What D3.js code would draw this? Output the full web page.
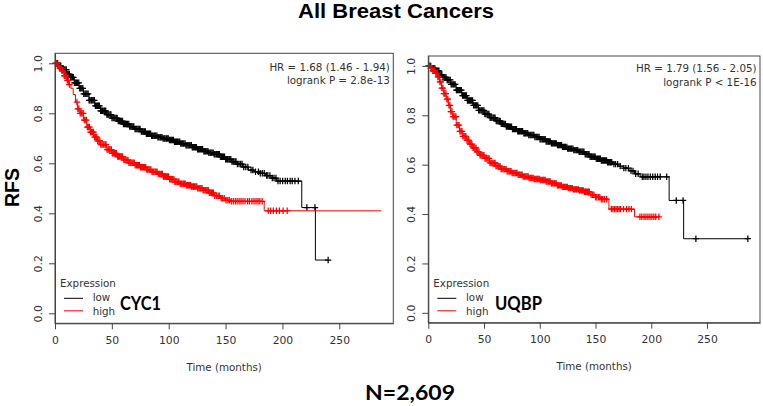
<!DOCTYPE html>
<html><head><meta charset="utf-8">
<script src="https://cdn.jsdelivr.net/npm/d3@7"></script>
<style>
html,body{margin:0;padding:0;background:#fff;}
svg{display:block;}
</style></head>
<body>
<svg id="chart" width="763" height="406"></svg>
<script>
// ---------------- DATA ----------------
const chartTitle = "All Breast Cancers";
const yLabel = "RFS";
const footer = "N=2,609";
const xTitle = "Time (months)";
const xTicks = [0, 50, 100, 150, 200, 250];
const yTicks = [0.0, 0.2, 0.4, 0.6, 0.8, 1.0];
const yTickLabels = ["0.0", "0.2", "0.4", "0.6", "0.8", "1.0"];
const legendTitle = "Expression";
const groups = ["low", "high"];
const genes = ["CYC1", "UQBP"];
const hrTexts = ["HR = 1.68 (1.46 - 1.94)", "HR = 1.79 (1.56 - 2.05)"];
const pTexts = ["logrank P = 2.8e-13", "logrank P < 1E-16"];

// CYC1 - low expression (black)
const cyc1LowTime = [0,3,6,10,13,17,21,25,30,35,40,45,50,55,60,65,70,75,80,85,90,95,100,105,110,115,120,125,130,135,140,145,150,155,160,165,170,175,180,185,190,195,217,229,240];
const cyc1LowSurv = [1.0,0.99,0.975,0.957,0.944,0.922,0.90,0.878,0.852,0.83,0.81,0.795,0.781,0.769,0.757,0.747,0.737,0.727,0.718,0.71,0.704,0.699,0.693,0.686,0.679,0.672,0.664,0.656,0.648,0.642,0.636,0.626,0.616,0.607,0.597,0.585,0.573,0.566,0.560,0.551,0.541,0.529,0.423,0.213,0.213];
const cyc1LowCensor = [0.6,1.5,2.3,3.4,4.2,5.1,6.0,7.1,7.9,8.8,9.9,10.7,11.6,12.6,13.5,14.3,15.4,16.2,17.1,18.1,19.0,19.8,20.9,21.7,22.6,23.6,24.5,25.3,26.4,27.2,28.1,29.1,30.0,30.8,31.9,32.7,33.6,34.6,35.5,36.3,37.4,38.2,39.1,40.1,41.0,41.8,42.9,43.7,44.6,45.6,46.5,47.3,48.4,49.2,50.1,51.1,52.0,52.8,53.9,54.7,55.6,56.6,57.5,58.3,59.4,60.2,61.1,62.1,63.0,63.8,64.9,65.7,66.6,67.6,68.5,69.3,70.4,71.2,72.1,73.1,74.0,74.8,75.9,76.7,77.6,78.6,79.5,80.3,81.4,82.2,83.1,84.1,85.0,85.8,86.9,87.7,88.6,89.6,90.5,91.3,92.4,93.2,94.1,95.1,96.0,96.8,97.9,98.7,99.6,100.6,101.5,102.3,103.4,104.2,105.1,106.1,107.0,107.8,108.9,109.7,110.6,111.6,112.5,113.3,114.4,115.2,116.1,117.1,118.0,118.8,119.9,120.7,121.6,122.6,123.5,124.3,125.4,126.2,127.1,128.1,129.0,129.8,130.9,131.7,132.6,133.6,134.5,135.3,136.4,137.2,138.1,139.1,140.0,140.8,141.9,142.7,143.6,144.6,145.5,146.3,147.4,148.2,149.1,150.1,151.0,151.8,152.9,153.7,154.6,155.6,156.5,157.3,158.4,159.2,160.4,161.8,163.2,164.5,166.0,167.8,169.6,172.4,174.0,176.3,178.9,180.5,182.3,184.0,186.1,187.2,189.0,191.1,192.6,194.3,196.1,198.0,200.2,202.5,204.4,206.8,208.6,211.0,214.0,221.5,228.6,240.2];

// CYC1 - high expression (red)
const cyc1HighTime = [0,2,4,6,8,10,12,14,16,18,20,22,25,28,31,34,37,40,45,50,55,60,65,70,75,80,85,90,95,100,105,110,115,120,125,130,135,140,145,150,155,184,287];
const cyc1HighSurv = [1.0,0.99,0.98,0.97,0.95,0.932,0.915,0.90,0.875,0.845,0.818,0.80,0.773,0.745,0.725,0.705,0.69,0.675,0.655,0.64,0.627,0.613,0.602,0.592,0.584,0.575,0.566,0.557,0.547,0.536,0.526,0.518,0.512,0.507,0.50,0.492,0.482,0.47,0.46,0.452,0.448,0.41,0.41];
const cyc1HighCensor = [0.7,1.6,2.4,3.5,4.3,5.2,6.2,7.0,8.1,8.9,9.8,10.9,11.7,12.6,19.3,20.1,21.0,22.1,22.9,23.8,24.8,25.7,26.5,27.6,28.4,29.3,30.3,31.2,32.0,33.1,33.9,34.8,35.8,36.7,37.5,38.6,39.4,40.3,41.3,42.2,43.0,44.1,44.9,45.8,46.8,47.7,48.5,49.6,50.4,51.3,52.3,53.2,54.0,55.1,55.9,56.8,57.8,58.7,59.5,60.6,61.4,62.3,63.3,64.2,65.0,66.1,66.9,67.8,68.8,69.7,70.5,71.6,72.4,73.3,74.3,75.2,76.0,77.1,77.9,78.8,79.8,80.7,81.5,82.6,83.4,84.3,85.3,86.2,87.0,88.1,88.9,89.8,90.8,91.7,92.5,93.6,94.4,95.3,96.3,97.2,98.0,99.1,99.9,100.8,101.8,102.7,103.5,104.6,105.4,106.3,107.3,108.2,109.0,110.1,110.9,111.8,112.8,113.7,114.5,115.6,116.4,117.3,118.3,119.2,120.0,121.1,121.9,122.8,123.8,124.7,125.5,126.6,127.4,128.3,129.3,130.2,131.0,132.1,132.9,133.8,134.8,135.7,136.5,137.6,138.4,139.3,140.6,142.0,143.4,144.6,146.1,147.3,148.8,150.4,152.0,153.3,155.0,156.8,158.6,160.2,161.9,163.6,165.3,167.1,169.4,171.0,173.2,175.0,176.8,178.5,180.1,182.2,187.5,189.6,192.0,194.7,197.3,200.6,204.2];

// UQBP - low expression (black)
const uqbpLowTime = [0,3,6,10,13,16,20,25,30,35,40,45,50,55,60,65,70,75,80,85,90,95,100,105,110,115,120,125,130,135,140,145,150,155,160,165,170,175,180,185,190,216,229,287];
const uqbpLowSurv = [1.0,0.99,0.98,0.965,0.953,0.943,0.925,0.902,0.88,0.86,0.84,0.82,0.805,0.79,0.777,0.765,0.754,0.744,0.735,0.727,0.72,0.712,0.703,0.694,0.686,0.679,0.672,0.665,0.659,0.652,0.642,0.632,0.624,0.617,0.61,0.602,0.594,0.586,0.575,0.563,0.551,0.455,0.30,0.30];
const uqbpLowCensor = [0.4,1.4,2.2,3.1,4.1,4.9,5.9,6.8,7.6,8.7,9.5,10.4,11.4,12.2,13.1,14.2,15.0,15.9,16.9,17.7,18.6,19.7,20.5,21.4,22.4,23.2,24.1,25.2,26.0,26.9,27.9,28.7,29.6,30.7,31.5,32.4,33.4,34.2,35.1,36.2,37.0,37.9,38.9,39.7,40.6,41.7,42.5,43.4,44.4,45.2,46.1,47.2,48.0,48.9,49.9,50.7,51.6,52.7,53.5,54.4,55.4,56.2,57.1,58.2,59.0,59.9,60.9,61.7,62.6,63.7,64.5,65.4,66.4,67.2,68.1,69.2,70.0,70.9,71.9,72.7,73.6,74.7,75.5,76.4,77.4,78.2,79.1,80.2,81.0,81.9,82.9,83.7,84.6,85.7,86.5,87.4,88.4,89.2,90.1,91.2,92.0,92.9,93.9,94.7,95.6,96.7,97.5,98.4,99.4,100.2,101.1,102.2,103.0,103.9,104.9,105.7,106.6,107.7,108.5,109.4,110.4,111.2,112.1,113.2,114.0,114.9,115.9,116.7,117.6,118.7,119.5,120.4,121.4,122.2,123.1,124.2,125.0,125.9,126.9,127.7,128.6,129.7,130.5,131.4,132.4,133.2,134.1,135.2,136.0,136.9,137.9,138.7,139.6,140.7,141.5,142.4,143.4,144.2,145.1,146.2,147.0,147.9,148.9,149.7,150.6,151.7,152.5,153.4,154.4,155.2,156.1,157.2,158.0,158.9,159.9,160.7,161.6,162.7,163.5,164.5,166.5,168.0,169.8,172.1,175.4,177.2,179.5,181.8,183.6,186.0,188.2,191.9,193.4,195.2,197.0,199.1,201.3,203.5,205.6,208.0,213.8,222.4,228.5,240.0,286.6];

// UQBP - high expression (red)
const uqbpHighTime = [0,2,4,6,8,10,12,14,16,18,20,22,25,28,31,34,37,40,43,46,50,55,60,65,70,75,80,85,90,95,100,105,110,115,120,125,130,135,140,145,150,155,162,185,207];
const uqbpHighSurv = [1.0,0.99,0.98,0.97,0.955,0.935,0.91,0.888,0.865,0.84,0.815,0.795,0.76,0.735,0.715,0.698,0.683,0.668,0.652,0.638,0.625,0.607,0.594,0.582,0.573,0.566,0.559,0.552,0.546,0.542,0.538,0.532,0.524,0.516,0.51,0.505,0.50,0.496,0.49,0.478,0.468,0.46,0.42,0.389,0.389];
const uqbpHighCensor = [0.5,1.3,2.3,3.2,4.0,5.0,5.9,6.7,7.7,8.6,9.4,10.4,11.3,12.1,13.1,14.0,14.8,15.8,16.7,17.5,18.5,19.4,20.2,21.2,22.1,22.9,23.9,24.8,25.6,26.6,27.5,28.3,29.3,30.2,31.0,32.0,32.9,33.7,34.7,35.6,36.4,37.4,38.3,39.1,40.1,41.0,41.8,42.8,43.7,44.5,45.5,46.4,47.2,48.2,49.1,49.9,50.9,51.8,52.6,53.6,54.5,55.3,56.3,57.2,58.0,59.0,59.9,60.7,61.7,62.6,63.4,64.4,65.3,66.1,67.1,68.0,68.8,69.8,70.7,71.5,72.5,73.4,74.2,75.2,76.1,76.9,77.9,78.8,79.6,80.6,81.5,82.3,83.3,84.2,85.0,86.0,86.9,87.7,88.7,89.6,90.4,91.4,92.3,93.1,94.1,95.0,95.8,96.8,97.7,98.5,99.5,100.4,101.2,102.2,103.1,103.9,104.9,105.8,106.6,107.6,108.5,109.3,110.3,111.2,112.0,113.0,113.9,114.7,115.7,116.6,117.4,118.4,119.3,120.1,121.1,122.0,122.8,123.8,124.7,125.5,126.5,127.4,128.2,129.2,130.1,130.9,131.9,132.8,133.6,134.6,135.5,136.3,137.3,138.2,139.0,140.0,140.9,141.7,142.7,143.6,144.4,146.0,147.3,148.6,150.0,151.2,152.6,153.8,155.2,156.5,158.0,159.9,164.2,165.6,167.0,168.4,169.8,171.2,172.5,175.1,177.8,180.0,182.1,189.8,191.5,193.5,195.2,197.0,198.8,200.5,202.3,204.0,206.8];

// ---------------- LAYOUT ----------------
const svg = d3.select("#chart");
const RFONT = "'DejaVu Sans', sans-serif";
const BFONT = "Lato, 'Open Sans', sans-serif";
const HFONT = "'Liberation Sans', Arial, sans-serif";
const panels = [
  {left: 55, right: 393.3, top: 53.3, bottom: 323.3, gene: 0,
   geneX: 65, geneW: 41, hrY: 66.7, pY: 79.8,
   curves: [
     {t: cyc1LowTime, s: cyc1LowSurv, c: cyc1LowCensor, color: "#000"},
     {t: cyc1HighTime, s: cyc1HighSurv, c: cyc1HighCensor, color: "#ff0000"}]},
  {left: 428.3, right: 760, top: 56, bottom: 322.7, gene: 1,
   geneX: 66.7, geneW: 47, hrY: 67.5, pY: 82,
   curves: [
     {t: uqbpLowTime, s: uqbpLowSurv, c: uqbpLowCensor, color: "#000"},
     {t: uqbpHighTime, s: uqbpHighSurv, c: uqbpHighCensor, color: "#ff0000"}]}
];

panels.forEach(p => {
  const x = d3.scaleLinear().domain([0, 297.5]).range([p.left, p.right]);
  const y = d3.scaleLinear().domain([-0.04, 1.04]).range([p.bottom, p.top]);
  const g = svg.append("g");

  // curves
  p.curves.forEach(cv => {
    const pts = cv.t.map((t, i) => [t, cv.s[i]]);
    const line = d3.line().x(d => x(d[0])).y(d => y(d[1])).curve(d3.curveStepAfter);
    g.append("path").attr("d", line(pts)).attr("fill", "none")
      .attr("stroke", cv.color).attr("stroke-width", 1);
    const survAt = t => {
      const i = d3.bisectRight(cv.t, t) - 1;
      return cv.s[Math.max(0, i)];
    };
    const h = 3.2;
    g.append("g").selectAll("path").data(cv.c).join("path")
      .attr("d", t => {
        const cx = x(t), cy = y(survAt(t));
        return `M${cx - h},${cy}H${cx + h}M${cx},${cy - h}V${cy + h}`;
      })
      .attr("stroke", cv.color).attr("stroke-width", 1.25).attr("fill", "none");
  });

  // frame
  g.append("rect").attr("x", p.left).attr("y", p.top)
    .attr("width", p.right - p.left).attr("height", p.bottom - p.top)
    .attr("fill", "none").attr("stroke", "#444").attr("stroke-width", 1);

  // x axis
  const xa = d3.axisBottom(x).tickValues(xTicks).tickSize(6).tickPadding(7).tickSizeOuter(0);
  const gx = g.append("g").attr("transform", `translate(0,${p.bottom})`).call(xa);
  gx.select(".domain").attr("stroke", "#444");
  gx.selectAll(".tick line").attr("stroke", "#444");
  gx.selectAll(".tick text").attr("font-family", RFONT).attr("font-size", 10.8).attr("fill", "#333");

  // y axis
  const ya = d3.axisLeft(y).tickValues(yTicks).tickSize(6).tickSizeOuter(0)
    .tickFormat((d, i) => yTickLabels[i]);
  const gy = g.append("g").attr("transform", `translate(${p.left},0)`).call(ya);
  gy.select(".domain").attr("stroke", "#444");
  gy.selectAll(".tick line").attr("stroke", "#444");
  gy.selectAll(".tick text")
    .attr("font-family", RFONT).attr("font-size", 10.8).attr("fill", "#333")
    .attr("text-anchor", "middle").attr("dy", null).attr("x", null)
    .attr("dominant-baseline", "central")
    .attr("transform", "translate(-17,0) rotate(-90)");

  // x title
  g.append("text").attr("x", (p.left + p.right) / 2).attr("y", p.bottom + 43.5)
    .attr("text-anchor", "middle").attr("dominant-baseline", "central")
    .attr("font-family", RFONT).attr("font-size", 10.3).attr("fill", "#333").text(xTitle);

  // HR & p text
  g.append("text").attr("x", p.right - 3.5).attr("y", p.hrY).attr("text-anchor", "end")
    .attr("dominant-baseline", "central").attr("font-family", RFONT).attr("font-size", 10.3)
    .attr("fill", "#333").text(hrTexts[p.gene]);
  g.append("text").attr("x", p.right - 3.5).attr("y", p.pY).attr("text-anchor", "end")
    .attr("dominant-baseline", "central").attr("font-family", RFONT).attr("font-size", 10.3)
    .attr("fill", "#333").text(pTexts[p.gene]);

  // legend
  g.append("text").attr("x", p.left + 5).attr("y", 282.5).attr("dominant-baseline", "central")
    .attr("font-family", RFONT).attr("font-size", 10.3).attr("fill", "#333").text(legendTitle);
  const ly = [298.3, 310.8];
  groups.forEach((gr, i) => {
    g.append("line").attr("x1", p.left + 9).attr("x2", p.left + 28)
      .attr("y1", ly[i]).attr("y2", ly[i]).attr("stroke", p.curves[i].color).attr("stroke-width", 1);
    g.append("text").attr("x", p.left + 37.7).attr("y", ly[i] - (i === 0 ? 1 : 0))
      .attr("dominant-baseline", "central").attr("font-family", RFONT).attr("font-size", 10.3)
      .attr("fill", "#333").text(gr);
  });

  // gene label
  g.append("text").attr("x", p.left + p.geneX).attr("y", 310)
    .attr("font-family", BFONT).attr("font-weight", "bold").attr("font-size", 18.5)
    .attr("textLength", p.geneW).attr("lengthAdjust", "spacingAndGlyphs")
    .attr("fill", "#000").text(genes[p.gene]);
});

// title, y label, footer
svg.append("text").attr("x", 396).attr("y", 18).attr("text-anchor", "middle")
  .attr("font-family", HFONT).attr("font-weight", "bold").attr("font-size", 19.5)
  .attr("textLength", 196).attr("lengthAdjust", "spacingAndGlyphs").text(chartTitle);
svg.append("text").attr("transform", "translate(19.3,187.5) rotate(-90)").attr("text-anchor", "middle")
  .attr("font-family", HFONT).attr("font-weight", "bold").attr("font-size", 21)
  .attr("textLength", 39).attr("lengthAdjust", "spacingAndGlyphs").text(yLabel);
svg.append("text").attr("x", 410).attr("y", 400).attr("text-anchor", "middle")
  .attr("font-family", BFONT).attr("font-weight", "bold").attr("font-size", 21)
  .attr("textLength", 90).attr("lengthAdjust", "spacingAndGlyphs").text(footer);
</script>
</body></html>
